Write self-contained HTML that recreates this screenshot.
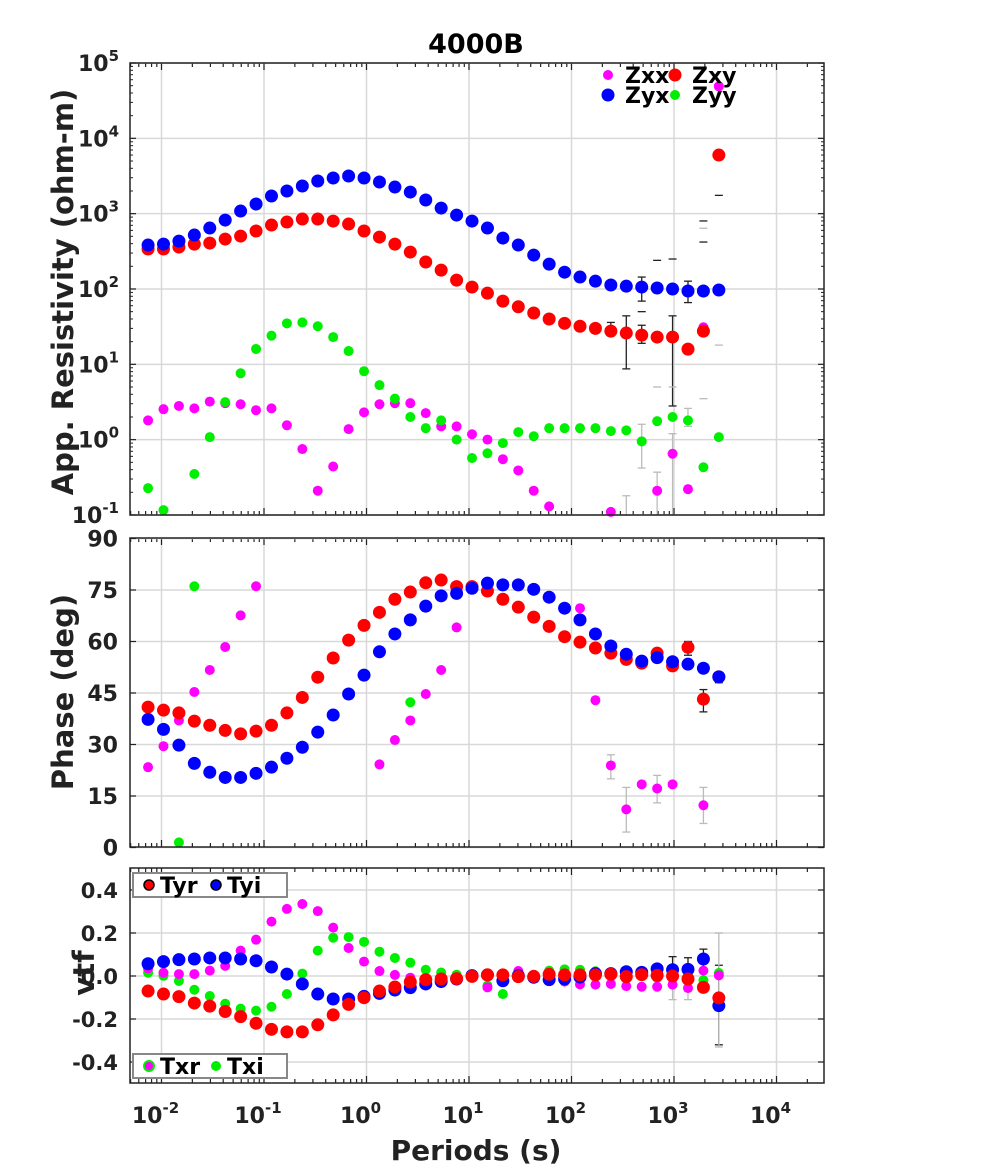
<!DOCTYPE html>
<html><head><meta charset="utf-8"><style>
html,body{margin:0;padding:0;background:#fff;}
svg{display:block;font-family:"DejaVu Sans","Liberation Sans",sans-serif;font-weight:bold;}
</style></head><body>
<svg id="chart" width="992" height="1166" viewBox="0 0 992 1166" xmlns="http://www.w3.org/2000/svg"></svg>
<script>
// ---- data ----
const logPeriodStart = -2.131;
const logPeriodStep = 0.1505;
const nPeriods = 38;
const rhoXY = [339,339,360,394,407,460,504,588,706,774,848,848,797,728,588,489,394,309,228,178,131,106,88,69,58,48,40,35,32,30,27.6,26,24.4,23,23,15.9,27.6,6000];
const rhoYX = [383,394,432,520,644,822,1083,1343,1714,2000,2328,2712,2972,3162,2972,2630,2255,1935,1517,1186,958,797,644,474,383,282,214,167,144,127,113,109,106,103,100,94,94,97];
const rhoXX = [1.8,2.54,2.8,2.6,3.2,3.05,2.95,2.46,2.6,1.55,0.75,0.21,0.44,1.38,2.3,2.95,3.05,3.05,2.25,1.5,1.5,1.18,1.0,0.55,0.39,0.21,0.13,null,null,null,0.11,null,null,0.21,0.65,0.22,31,49000];
const rhoYY = [0.227,0.116,null,0.35,1.08,3.15,7.6,16,24,35,36,32,23,15,8.1,5.3,3.5,2.0,1.42,1.8,1.0,0.57,0.66,0.9,1.26,1.11,1.42,1.42,1.42,1.42,1.3,1.33,0.95,1.76,2.0,1.8,0.43,1.08];
const phXY = [40.9,40,39.2,36.8,35.6,34.1,33.1,33.9,35.6,39.2,43.7,49.6,55.2,60.4,64.7,68.5,72.3,74.4,77.1,77.9,76,76,74.7,72.3,70,67.1,64.4,61.4,59.8,58.1,56.6,54.8,53.7,56.6,52.9,58.3,43.2,49.7];
const phYX = [37.3,34.4,29.8,24.5,21.9,20.4,20.4,21.6,23.4,26,29.2,33.6,38.6,44.7,50.2,57,62.2,66.3,70.3,73.3,74,75.5,77,76.5,76.5,75.2,72.9,69.7,66.3,62.2,58.7,56.3,54.3,55.3,54.1,53.4,52.2,49.7];
const phXX = [23.4,29.5,37,45.3,51.7,58.4,67.6,76.1,null,null,null,null,null,null,null,24.2,31.3,37,44.7,51.7,64.1,null,null,null,null,null,null,null,69.7,42.9,23.9,11.1,18.4,17.2,18.4,null,12.3,null];
const phYY = [null,null,1.5,76.1,null,null,null,null,null,null,null,null,null,null,null,null,null,42.3,null,null,null,null,null,null,null,null,null,null,null,null,null,null,null,null,null,null,null,null];
const tyr = [-0.07,-0.084,-0.096,-0.126,-0.14,-0.165,-0.189,-0.22,-0.248,-0.26,-0.26,-0.227,-0.181,-0.132,-0.101,-0.07,-0.051,-0.028,-0.017,-0.014,-0.012,-0.002,0.005,0.005,-0.003,-0.002,0.008,0.005,0.005,0.005,0.008,-0.003,0.006,0.003,0,-0.014,-0.053,-0.102];
const tyi = [0.057,0.067,0.076,0.079,0.084,0.084,0.079,0.071,0.042,0.009,-0.037,-0.084,-0.107,-0.107,-0.095,-0.081,-0.065,-0.054,-0.037,-0.026,-0.014,0.002,0.005,-0.022,0.002,-0.006,-0.017,-0.014,-0.005,0.011,0.011,0.02,0.017,0.033,0.029,0.031,0.079,-0.138];
const txr = [0.035,0.015,0.009,0.009,0.025,0.047,0.118,0.169,0.253,0.312,0.335,0.302,0.225,0.13,0.067,0.023,0.005,-0.008,-0.01,-0.01,-0.008,-0.005,-0.053,-0.005,0.023,-0.005,-0.005,-0.026,-0.039,-0.04,-0.037,-0.047,-0.05,-0.05,-0.04,-0.056,0.025,0.003];
const txi = [0.015,0.001,-0.023,-0.064,-0.093,-0.129,-0.152,-0.161,-0.143,-0.084,0.011,0.118,0.178,0.181,0.159,0.113,0.084,0.062,0.029,0.016,0.006,0.002,-0.045,-0.084,0.011,0.006,0.025,0.031,0.029,0.022,0.014,0.014,0.008,-0.009,0.014,0.014,-0.02,0.014];
const xTickLabels = ["-2","-1","0","1","2","3","4"];
const rhoTickLabels = ["-1","0","1","2","3","4","5"];
const phTicks = [0,15,30,45,60,75,90];
const vtfTicks = [-0.4,-0.2,0.0,0.2,0.4];

// ---- axes ----
const X0=130, X1=824;
const xLog = l => 366.5 + l*102.5;
const P1={t:63,b:515}, P2={t:538,b:847}, P3={t:868,b:1083};
const yRho = v => 63 + (5-Math.log10(v))*75.33;
const yPh = v => 847.5 - v*(309/90);
const yVtf = v => 976 - v*215;
const svg=document.getElementById('chart');
const NS='http://www.w3.org/2000/svg';
function mk(tag,attrs,parent){const e=document.createElementNS(NS,tag);for(const k in attrs)e.setAttribute(k,attrs[k]);(parent||svg).appendChild(e);return e;}
function txt(x,y,s,size,anchor,parent){const t=mk('text',{x:x,y:y,'font-size':size,'text-anchor':anchor||'middle',fill:'#222'},parent);t.textContent=s;return t;}

const periodX = i => xLog(logPeriodStart + logPeriodStep*i);

function panel(P,name){
  const g=mk('g',{});
  
  
  for(let d=-2;d<=4;d++){const gl=mk('line',{x1:xLog(d),x2:xLog(d),y1:P.t,y2:P.b,stroke:'#d8d8d8','stroke-width':1.5},g);}
  for(let d=-3;d<=4;d++){for(let m=1;m<10;m++){const x=xLog(d+Math.log10(m));if(x<X0||x>X1)continue;const len=m==1?7:4;
    mk('line',{x1:x,x2:x,y1:P.t,y2:P.t+len,stroke:'#222','stroke-width':1.2},g);
    mk('line',{x1:x,x2:x,y1:P.b,y2:P.b-len,stroke:'#222','stroke-width':1.2},g);}}
  return g;
}
function frame(P,name){const r=mk('rect',{x:X0,y:P.t,width:X1-X0,height:P.b-P.t,fill:'none',stroke:'#222','stroke-width':1.5});}
function hgrid(g,y){mk('line',{x1:X0,x2:X1,y1:y,y2:y,stroke:'#d8d8d8','stroke-width':1.5},g);}
function ytick(y){mk('line',{x1:X0,x2:X0+6,y1:y,y2:y,stroke:'#222','stroke-width':1.2});mk('line',{x1:X1,x2:X1-6,y1:y,y2:y,stroke:'#222','stroke-width':1.2});}
function dots(arr,yf,color,r,name,stroke){
  arr.forEach((v,i)=>{if(v===null||v===undefined)return;const y=yf(v);
    const c=mk('circle',{cx:periodX(i),cy:y,r:r,fill:color});
    
    });
}
function ebar(i,y1,y2,color){const x=periodX(i);mk('line',{x1:x,x2:x,y1:y1,y2:y2,stroke:color,'stroke-width':1.3});mk('line',{x1:x-4,x2:x+4,y1:y1,y2:y1,stroke:color,'stroke-width':1.3});mk('line',{x1:x-4,x2:x+4,y1:y2,y2:y2,stroke:color,'stroke-width':1.3});}
function dash(i,y,color){const x=periodX(i);mk('line',{x1:x-4,x2:x+4,y1:y,y2:y,stroke:color,'stroke-width':1.3});}

// ---- panel 1 ----
const g1=panel(P1,'resistivity-panel');
for(let d=-1;d<=5;d++){hgrid(g1,yRho(Math.pow(10,d)));}
for(let d=-1;d<5;d++){for(let m=2;m<10;m++){const y=yRho(m*Math.pow(10,d));mk('line',{x1:X0,x2:X0+3,y1:y,y2:y,stroke:'#222'});mk('line',{x1:X1,x2:X1-3,y1:y,y2:y,stroke:'#222'});}}
rhoTickLabels.forEach(s=>{const d=+s;const y=yRho(Math.pow(10,d));ytick(y);
  const t=mk('text',{x:119,y:y+8,'font-size':22,'text-anchor':'end',fill:'#222'});
  t.textContent='10';const ts=mk('tspan',{dy:-10,'font-size':15},t);ts.textContent=s;});
// error bars
ebar(30,yRho(36),yRho(24),'#222');ebar(31,yRho(44),yRho(8.7),'#222');ebar(32,yRho(33),yRho(19),'#222');ebar(34,yRho(44),yRho(2.8),'#222');
ebar(32,yRho(144),yRho(69),'#222');ebar(35,yRho(127),yRho(66),'#222');
dash(32,yRho(50),'#222');dash(34,yRho(250),'#222');dash(33,yRho(240),'#222');dash(33,yRho(5),'#bbb');dash(34,yRho(5),'#bbb');
dash(36,yRho(800),'#222');dash(36,yRho(420),'#222');dash(36,yRho(640),'#bbb');dash(36,yRho(3.5),'#bbb');dash(37,yRho(1750),'#222');dash(37,yRho(18),'#bbb');
ebar(32,yRho(1.6),yRho(0.42),'#bbb');ebar(31,yRho(0.18),yRho(0.1),'#bbb');ebar(33,yRho(0.37),yRho(0.1),'#bbb');ebar(34,yRho(1.2),yRho(0.1),'#bbb');ebar(35,yRho(2.6),yRho(1.5),'#bbb');
dots(rhoXX,yRho,'#ff00ff',5,'zxx-point');
dots(rhoYY,yRho,'#00ee00',5,'zyy-point');
dots(rhoXY,yRho,'#ff0000',6.5,'zxy-point');
dots(rhoYX,yRho,'#0000ff',6.5,'zyx-point');
frame(P1,'resistivity-frame');
[[608,75,'#ff00ff',5,'Zxx'],[675,75,'#ff0000',6.5,'Zxy'],[608,95,'#0000ff',6.5,'Zyx'],[675,95,'#00ee00',5,'Zyy']].forEach(L=>{
  const c=mk('circle',{cx:L[0],cy:L[1],r:L[3],fill:L[2]});
  const t=mk('text',{x:L[0]+17,y:L[1]+8,'font-size':22,fill:'#000'});t.textContent=L[4];});

// ---- panel 2 ----
const g2=panel(P2,'phase-panel');
phTicks.forEach(v=>{const y=yPh(v);hgrid(g2,y);ytick(y);const t=txt(118,y+8,String(v),22,'end');});
ebar(35,yPh(60),yPh(56),'#222');ebar(36,yPh(46),yPh(39.5),'#222');ebar(37,yPh(51),yPh(48),'#222');
ebar(30,yPh(27),yPh(20),'#bbb');ebar(31,yPh(17.5),yPh(4.5),'#bbb');ebar(33,yPh(21),yPh(13),'#bbb');ebar(36,yPh(17.5),yPh(7),'#bbb');
dots(phXX,yPh,'#ff00ff',5,'zxx-phase-point');
dots(phYY,yPh,'#00ee00',5,'zyy-phase-point');
dots(phXY,yPh,'#ff0000',6.5,'zxy-phase-point');
dots(phYX,yPh,'#0000ff',6.5,'zyx-phase-point');
frame(P2,'phase-frame');

// ---- panel 3 ----
const g3=panel(P3,'vtf-panel');
vtfTicks.forEach(v=>{const y=yVtf(v);hgrid(g3,y);ytick(y);const t=txt(118,y+8,v.toFixed(1),21,'end');});
ebar(34,yVtf(0.09),yVtf(-0.03),'#222');ebar(35,yVtf(0.085),yVtf(0),'#222');ebar(36,yVtf(0.125),yVtf(-0.03),'#222');ebar(37,yVtf(0.05),yVtf(-0.32),'#222');
ebar(37,yVtf(0.2),yVtf(-0.33),'#bbb');ebar(34,yVtf(0.02),yVtf(-0.11),'#bbb');ebar(35,yVtf(0.02),yVtf(-0.11),'#bbb');
dots(txi,yVtf,'#00ee00',5,'txi-point');
dots(txr,yVtf,'#ff00ff',5,'txr-point');
dots(tyi,yVtf,'#0000ff',6.5,'tyi-point');
dots(tyr,yVtf,'#ff0000',6.5,'tyr-point');
frame(P3,'vtf-frame');
function legBox(y,items,name){const r=mk('rect',{x:133,y:y,width:154,height:24,fill:'#fff',stroke:'#888','stroke-width':2});
  items.forEach(it=>{const c=mk('circle',{cx:it[0],cy:y+12,r:5,fill:it[1],stroke:it[2],'stroke-width':it[3]});
    const t=mk('text',{x:it[0]+11,y:y+20,'font-size':22,fill:'#000'});t.textContent=it[4];});}
legBox(873,[[149,'#ff0000','#000',1.5,'Tyr'],[216,'#0000ff','#000',1.5,'Tyi']],'tipper-y-legend');
legBox(1054,[[149,'#ff00ff','#00ee00',2,'Txr'],[216,'#00ee00','#00ee00',0,'Txi']],'tipper-x-legend');

xTickLabels.forEach(s=>{const x=xLog(+s);const t=mk('text',{x:x-6,y:1123,'font-size':22,'text-anchor':'middle',fill:'#222'});
  t.textContent='10';const ts=mk('tspan',{dy:-10,'font-size':15},t);ts.textContent=s;});

let t;
t=txt(476,53,'4000B',27);t.setAttribute('fill','#000');
t=txt(476,1160,'Periods (s)',28);
t=txt(0,0,'App. Resistivity (ohm-m)',29);t.setAttribute('transform','translate(73,292) rotate(-90)');
t=txt(0,0,'Phase (deg)',29);t.setAttribute('transform','translate(73,692) rotate(-90)');
t=txt(0,0,'vtf',29);t.setAttribute('transform','translate(94,973) rotate(-90)');
</script>
</body></html>
